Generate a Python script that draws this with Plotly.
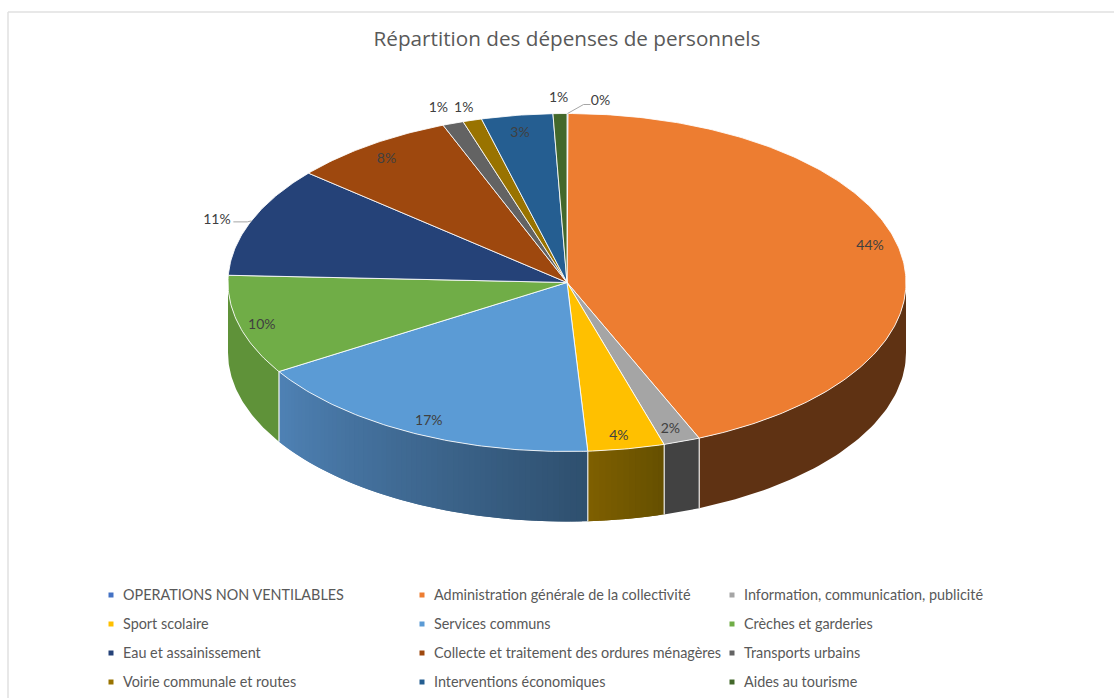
import numpy as np
import plotly.graph_objects as go

TITLE = "Répartition des dépenses de personnels"
categories = ["OPERATIONS NON VENTILABLES", "Administration générale de la collectivité",
              "Information, communication, publicité", "Sport scolaire", "Services communs",
              "Crèches et garderies", "Eau et assainissement",
              "Collecte et traitement des ordures ménagères", "Transports urbains",
              "Voirie communale et routes", "Interventions économiques", "Aides au tourisme"]
values = [0.05, 43.6, 1.75, 3.65, 17.15, 9.52, 10.52, 7.85, 1.0, 0.9, 3.4, 0.66]
colors = ["#4472c4", "#ed7d31", "#a5a5a5", "#ffc000", "#5b9bd5", "#70ad47",
          "#254278", "#9e480e", "#636363", "#997300", "#255e91", "#43682b"]
# wall shading at the start and the end of each visible side wall
wall_left = {1: "#5f3213", 2: "#424242", 3: "#665000", 4: "#2f506f", 5: "#5f9239"}
wall_right = {1: "#5f3213", 2: "#424242", 3: "#7f6000", 4: "#4f82b5", 5: "#5f9239"}

CX, CY, RX, RY, DEPTH = 567, 282.5, 339, 169, 70
TEXT = "#595959"
FONT = "Lato"
TITLE_FONT = "Open Sans"
# label shift from the default spot inside the slice
label_shift = {0: (33, -29), 1: (4, -6), 2: (0, 4), 3: (-1.5, 4), 4: (2, 4), 5: (-10, 4), 6: (-66, -7), 7: (-3, 1),
               8: (-26, -31), 9: (-18, -28), 10: (-2, 1), 11: (-2, -32)}
LEG_X = [111, 422, 732]
LEG_Y = [595, 624, 653, 682]


def pt(theta, r=1.0, dy=0.0):
    return CX + r * RX * np.sin(theta), CY - r * RY * np.cos(theta) + dy


def hex2rgb(h):
    return np.array([int(h[i:i + 2], 16) for i in (1, 3, 5)], float)


total = sum(values)
edges = np.concatenate([[0], np.cumsum(values)]) / total * 2 * np.pi
fig = go.Figure()


def poly(x, y, fill=None, line="rgba(255,255,255,0.85)", width=1.0):
    fig.add_trace(go.Scatter(x=list(x), y=list(y), mode="lines", fill="toself" if fill else "none",
                             fillcolor=fill, line=dict(color=line, width=width),
                             hoverinfo="skip", showlegend=False))


# side walls (front half of the ellipse only)
for i in range(len(values)):
    a, b = max(edges[i], np.pi / 2), min(edges[i + 1], 3 * np.pi / 2)
    if a >= b:
        continue
    graded = wall_left[i] != wall_right[i]
    n = max(2, int((b - a) * 60)) if graded else 1
    ts = np.linspace(a, b, n + 1)
    c0, c1 = hex2rgb(wall_right[i]), hex2rgb(wall_left[i])
    # strips overlap the next one so that no seam shows through
    for k in range(n):
        t = np.linspace(ts[k], ts[min(k + 2, n)], 60 if n == 1 else 8)
        x, y = pt(t)
        x2, y2 = pt(t[::-1], dy=DEPTH)
        col = c1 + (c0 - c1) * (k + 0.5) / n
        c = "rgb(%d,%d,%d)" % tuple(col)
        poly(np.r_[x, x2, x[0]], np.r_[y, y2, y[0]], fill=c, line=c, width=0)
    t = np.linspace(a, b, 80)
    x, y = pt(t)
    x2, y2 = pt(t[::-1], dy=DEPTH)
    sides = [[x[0], x2[-1]], [y[0], y2[-1]]], [[x[-1], x2[0]], [y[-1], y2[0]]]
    for sx, sy in sides:
        if sx[0] < CX + RX - 1 and sx[0] > CX - RX + 1:
            poly(sx, sy, width=1.0)

# top faces
for i in range(len(values)):
    t = np.linspace(edges[i], edges[i + 1], max(3, int((edges[i + 1] - edges[i]) * 80)))
    x, y = pt(t)
    poly(np.r_[CX, x, CX], np.r_[CY, y, CY], fill=colors[i])

# percentage labels
lx, ly, lt = [], [], []
for i, v in enumerate(values):
    mid = (edges[i] + edges[i + 1]) / 2
    x, y = pt(mid, 0.9)
    sx, sy = label_shift.get(i, (0, 0))
    lx.append(x + sx)
    ly.append(y + sy)
    lt.append("%d%%" % round(v / total * 100))
fig.add_trace(go.Scatter(x=lx, y=ly, mode="text", text=lt, showlegend=False, hoverinfo="skip",
                         textfont=dict(family=FONT, size=14, color="#404040")))

# leader lines
for i, run in ((0, [(16, -9), (23, -9)]), (6, [(-4, 1), (-18, 1)])):
    x0, y0 = pt((edges[i] + edges[i + 1]) / 2)
    xs = [x0] + [x0 + d[0] for d in run]
    ys = [y0] + [y0 + d[1] for d in run]
    poly(xs, ys, line="#a6a6a6", width=1)

# legend, three columns by four rows
n_col = len(LEG_X)
mx = [LEG_X[i % n_col] for i in range(len(categories))]
my = [LEG_Y[i // n_col] for i in range(len(categories))]
fig.add_trace(go.Scatter(x=mx, y=my, mode="markers", showlegend=False, hoverinfo="skip",
                         marker=dict(symbol="square", size=5, color=colors, line=dict(width=0))))
fig.add_trace(go.Scatter(x=[v + 12 for v in mx], y=[v + 1 for v in my], mode="text", text=categories,
                         textposition="middle right", showlegend=False, hoverinfo="skip",
                         textfont=dict(family=FONT, size=14.4, color=TEXT)))

fig.update_layout(
    width=1114, height=698, margin=dict(l=0, r=0, t=0, b=0),
    paper_bgcolor="white", plot_bgcolor="white", showlegend=False,
    title=dict(text=TITLE, x=567 / 1114, xanchor="center", y=1 - 39 / 698, yanchor="middle",
               font=dict(family=TITLE_FONT, size=20.7, color=TEXT)),
    xaxis=dict(range=[0, 1114], visible=False, fixedrange=True),
    yaxis=dict(range=[698, 0], visible=False, fixedrange=True),
    shapes=[dict(type="line", xref="x", yref="y", x0=8, x1=1114, y0=12, y1=12, line=dict(color="#e0e0e0", width=1.5)),
            dict(type="line", xref="x", yref="y", x0=8, x1=8, y0=12, y1=698, line=dict(color="#e0e0e0", width=1.5))],
)
fig.write_html("out.html", post_script="document.body.style.margin='0';", config={"displayModeBar": False})
